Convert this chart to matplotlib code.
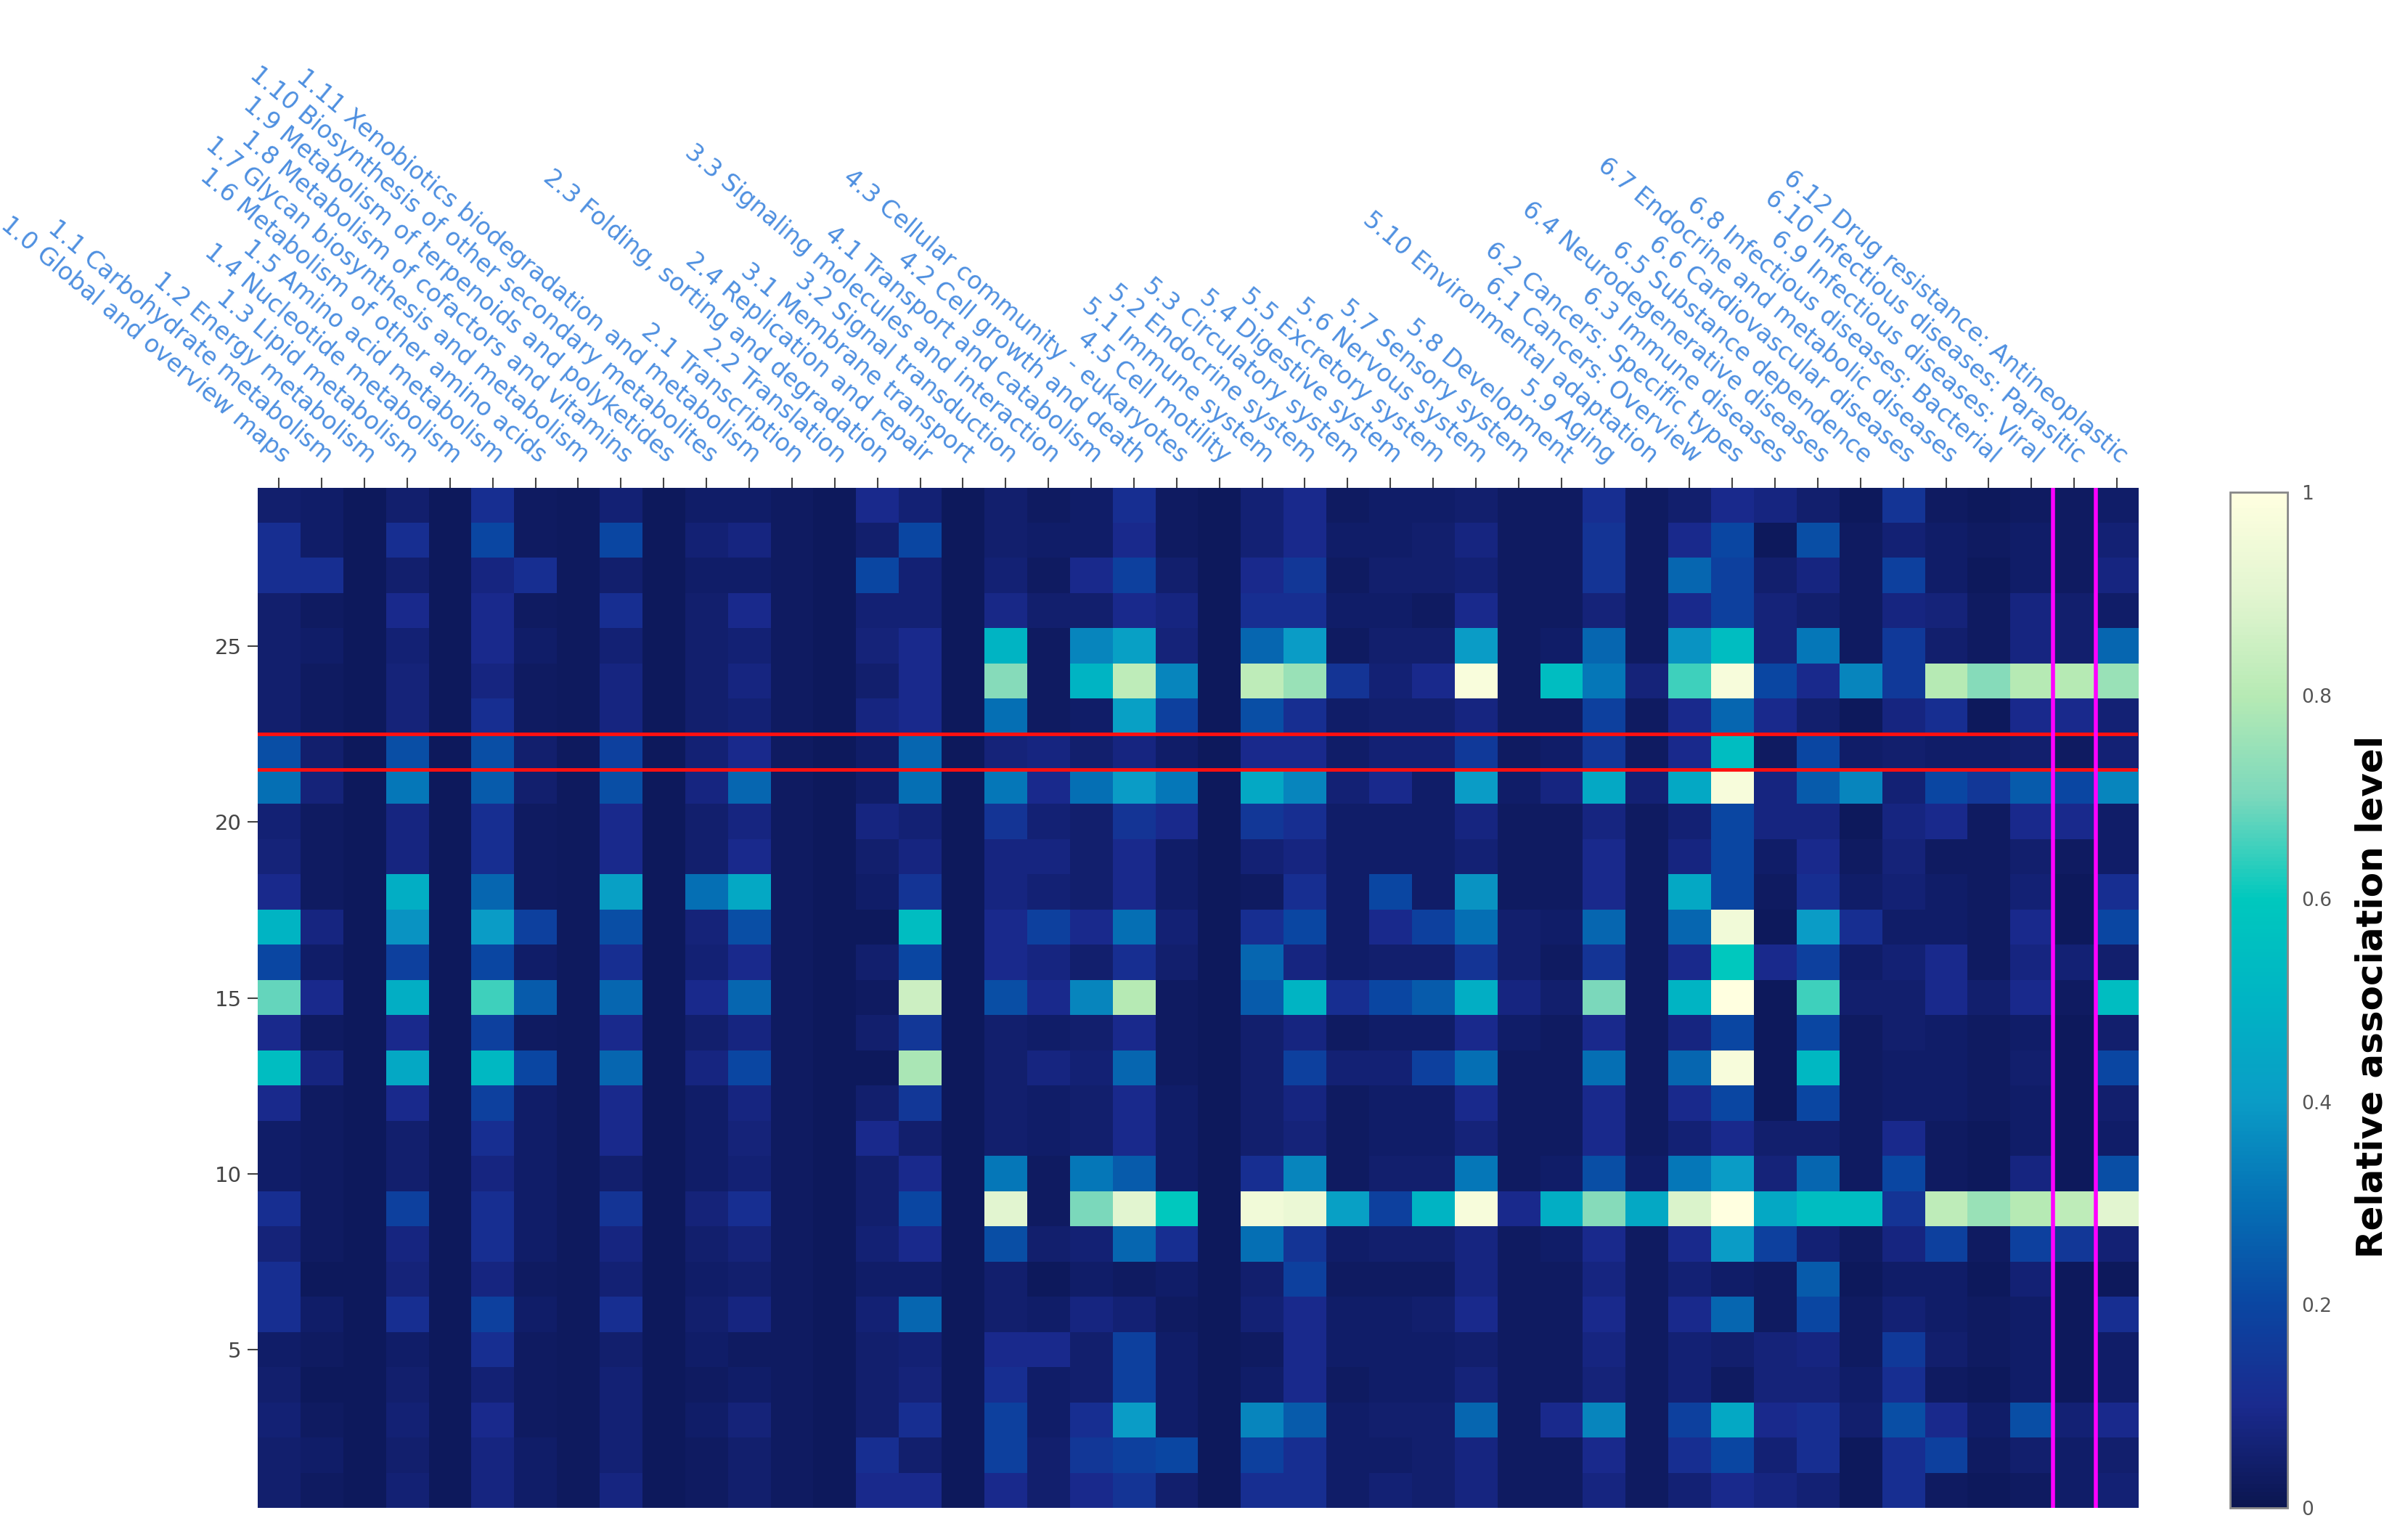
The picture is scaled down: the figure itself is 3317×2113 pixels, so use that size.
import numpy as np
import matplotlib
matplotlib.use("Agg")
import matplotlib.pyplot as plt
from matplotlib.colors import LinearSegmentedColormap

pathways = ["1.0 Global and overview maps", "1.1 Carbohydrate metabolism", "1.2 Energy metabolism",
    "1.3 Lipid metabolism", "1.4 Nucleotide metabolism", "1.5 Amino acid metabolism",
    "1.6 Metabolism of other amino acids", "1.7 Glycan biosynthesis and metabolism",
    "1.8 Metabolism of cofactors and vitamins", "1.9 Metabolism of terpenoids and polyketides",
    "1.10 Biosynthesis of other secondary metabolites", "1.11 Xenobiotics biodegradation and metabolism",
    "2.1 Transcription", "2.2 Translation", "2.3 Folding, sorting and degradation",
    "2.4 Replication and repair", "3.1 Membrane transport", "3.2 Signal transduction",
    "3.3 Signaling molecules and interaction", "4.1 Transport and catabolism",
    "4.2 Cell growth and death", "4.3 Cellular community - eukaryotes", "4.5 Cell motility",
    "5.1 Immune system", "5.2 Endocrine system", "5.3 Circulatory system", "5.4 Digestive system",
    "5.5 Excretory system", "5.6 Nervous system", "5.7 Sensory system", "5.8 Development",
    "5.9 Aging", "5.10 Environmental adaptation", "6.1 Cancers: Overview",
    "6.2 Cancers: Specific types", "6.3 Immune diseases", "6.4 Neurodegenerative diseases",
    "6.5 Substance dependence", "6.6 Cardiovascular diseases", "6.7 Endocrine and metabolic diseases",
    "6.8 Infectious diseases: Bacterial", "6.9 Infectious diseases: Viral",
    "6.10 Infectious diseases: Parasitic", "6.12 Drug resistance: Antineoplastic"]

# each list: values for rows 29 (top) down to 1 (bottom)
col_values = [
 [.05,.12,.12,.05,.05,.05,.05,.22,.3,.06,.07,.1,.5,.2,.68,.1,.55,.1,.04,.04,.12,.07,.12,.12,.04,.05,.06,.05,.05],
 [.04,.04,.12,.03,.04,.03,.03,.05,.07,.03,.03,.03,.08,.04,.1,.03,.08,.03,.03,.03,.03,.03,.02,.04,.03,.02,.03,.04,.03],
 [.02]*29,
 [.05,.12,.05,.1,.06,.07,.07,.22,.32,.08,.08,.48,.38,.18,.48,.1,.45,.1,.05,.05,.18,.08,.07,.12,.04,.05,.06,.05,.06],
 [.02]*29,
 [.12,.2,.08,.1,.1,.08,.12,.22,.25,.12,.12,.28,.4,.2,.65,.18,.52,.18,.12,.08,.12,.12,.08,.18,.12,.06,.1,.08,.08],
 [.03,.03,.12,.03,.04,.03,.03,.05,.05,.03,.03,.03,.18,.04,.25,.03,.2,.04,.04,.04,.04,.04,.03,.04,.03,.03,.03,.04,.04],
 [.025]*29,
 [.06,.2,.05,.12,.06,.08,.08,.18,.22,.1,.1,.42,.22,.12,.28,.1,.28,.1,.1,.05,.14,.08,.06,.12,.05,.06,.06,.06,.08],
 [.02]*29,
 [.04,.06,.04,.05,.05,.05,.05,.06,.08,.05,.05,.3,.07,.06,.1,.05,.08,.04,.04,.04,.07,.05,.04,.05,.04,.03,.04,.03,.03],
 [.04,.08,.04,.1,.06,.08,.06,.1,.28,.08,.1,.45,.22,.1,.28,.08,.2,.08,.07,.06,.12,.07,.05,.08,.03,.04,.07,.05,.05],
 [.03]*29,
 [.02]*29,
 [.1,.05,.2,.06,.07,.05,.08,.04,.04,.08,.05,.04,.02,.05,.03,.05,.02,.05,.1,.05,.05,.06,.04,.06,.05,.05,.05,.12,.1],
 [.06,.2,.06,.06,.1,.1,.1,.28,.3,.06,.08,.14,.55,.2,.85,.15,.78,.15,.05,.1,.2,.1,.04,.28,.06,.07,.12,.05,.1],
 [.02]*29,
 [.05,.05,.06,.09,.5,.72,.3,.07,.32,.14,.08,.08,.1,.1,.22,.05,.05,.05,.05,.32,.9,.22,.05,.05,.1,.12,.18,.18,.1],
 [.03,.04,.03,.05,.03,.03,.03,.08,.1,.06,.08,.06,.18,.08,.1,.04,.08,.04,.04,.03,.03,.05,.02,.04,.1,.04,.04,.05,.05],
 [.04,.04,.1,.05,.35,.5,.04,.05,.3,.05,.05,.05,.1,.05,.35,.05,.06,.05,.05,.32,.7,.06,.04,.08,.05,.05,.12,.15,.1],
 [.12,.1,.18,.1,.42,.82,.42,.08,.4,.14,.1,.1,.3,.12,.8,.1,.28,.1,.1,.25,.9,.28,.03,.06,.18,.18,.4,.18,.14],
 [.03,.03,.05,.08,.07,.35,.18,.04,.32,.1,.04,.04,.06,.05,.03,.03,.03,.04,.04,.04,.6,.12,.04,.03,.04,.04,.04,.2,.05],
 [.02]*29,
 [.06,.06,.1,.12,.28,.82,.22,.1,.45,.15,.06,.03,.12,.28,.25,.05,.05,.05,.05,.12,.95,.3,.05,.06,.03,.04,.35,.18,.12],
 [.1,.1,.15,.12,.4,.75,.12,.1,.35,.12,.08,.12,.2,.08,.5,.08,.18,.08,.07,.35,.93,.14,.18,.1,.1,.1,.25,.12,.12],
 [.03,.04,.03,.04,.03,.14,.04,.04,.06,.04,.04,.04,.04,.04,.12,.03,.06,.03,.03,.03,.42,.04,.03,.04,.04,.03,.04,.04,.04],
 [.04,.04,.05,.04,.05,.06,.05,.06,.1,.04,.04,.2,.1,.05,.2,.04,.06,.04,.04,.05,.18,.05,.03,.04,.04,.04,.05,.04,.06],
 [.04,.05,.05,.03,.05,.1,.05,.06,.04,.04,.04,.04,.18,.05,.25,.04,.18,.04,.04,.05,.5,.05,.03,.05,.04,.04,.05,.05,.05],
 [.05,.08,.06,.1,.4,.98,.08,.16,.4,.08,.06,.38,.3,.14,.48,.1,.3,.1,.07,.32,.97,.08,.08,.1,.05,.07,.28,.08,.08],
 [.03,.03,.03,.03,.03,.03,.03,.03,.04,.03,.03,.03,.05,.05,.08,.04,.03,.03,.03,.03,.1,.03,.03,.03,.03,.03,.03,.03,.03],
 [.03,.03,.03,.03,.04,.55,.03,.04,.08,.03,.03,.03,.04,.03,.05,.03,.03,.03,.03,.04,.48,.04,.03,.03,.03,.03,.1,.03,.03],
 [.12,.14,.14,.07,.28,.32,.18,.15,.45,.08,.1,.1,.28,.14,.7,.1,.3,.1,.1,.22,.72,.1,.08,.1,.08,.07,.35,.1,.08],
 [.03,.03,.03,.03,.03,.07,.03,.03,.06,.03,.03,.03,.03,.03,.03,.03,.03,.03,.03,.04,.45,.03,.03,.03,.03,.03,.03,.03,.03],
 [.05,.1,.28,.1,.38,.65,.1,.1,.45,.06,.08,.45,.28,.1,.5,.08,.28,.1,.06,.32,.88,.1,.06,.1,.06,.06,.18,.12,.06],
 [.1,.2,.18,.18,.55,.97,.28,.55,.97,.2,.2,.2,.95,.6,1.0,.2,.97,.2,.1,.4,1.0,.4,.04,.28,.05,.03,.45,.2,.1],
 [.08,.02,.05,.07,.07,.2,.1,.03,.08,.08,.04,.03,.02,.1,.02,.02,.02,.02,.05,.07,.45,.18,.03,.03,.07,.07,.1,.06,.08],
 [.05,.22,.08,.05,.32,.1,.05,.2,.25,.08,.1,.12,.4,.18,.65,.2,.52,.2,.05,.28,.55,.06,.25,.2,.08,.07,.12,.12,.06],
 [.02,.03,.03,.03,.03,.35,.02,.04,.35,.02,.03,.04,.12,.04,.05,.03,.03,.03,.03,.03,.55,.03,.02,.03,.03,.04,.05,.02,.02],
 [.14,.06,.18,.08,.16,.16,.08,.05,.06,.08,.07,.06,.04,.06,.05,.05,.04,.04,.1,.2,.14,.08,.04,.06,.16,.12,.22,.12,.12],
 [.03,.04,.04,.07,.05,.8,.12,.04,.2,.1,.03,.04,.04,.1,.1,.04,.04,.04,.03,.03,.82,.18,.04,.04,.05,.03,.1,.18,.03],
 [.02,.03,.02,.03,.03,.72,.02,.04,.15,.03,.03,.03,.03,.03,.05,.03,.03,.03,.02,.02,.75,.03,.02,.03,.03,.02,.04,.03,.02],
 [.03,.04,.04,.08,.08,.8,.1,.05,.25,.1,.05,.06,.1,.08,.1,.04,.05,.04,.04,.08,.8,.18,.06,.04,.04,.04,.22,.05,.03],
 [.03,.03,.03,.05,.05,.8,.1,.03,.2,.1,.03,.02,.02,.06,.03,.02,.02,.02,.02,.02,.82,.15,.02,.02,.02,.02,.06,.04,.04],
 [.04,.06,.08,.04,.28,.75,.06,.06,.35,.04,.04,.12,.2,.05,.55,.05,.2,.05,.04,.22,.9,.06,.02,.12,.04,.04,.1,.05,.06],
]
n_rows = 29
highlight_row = 22
highlight_col = "6.10 Infectious diseases: Parasitic"

data = np.array(col_values).T[::-1]  # row index 0 -> row 1

cmap = LinearSegmentedColormap.from_list("assoc", [
    (0.0, "#0b1650"), (0.1, "#1a2a8e"), (0.2, "#0a46a2"), (0.3, "#0570b5"),
    (0.4, "#0a9cc6"), (0.5, "#00b4c4"), (0.6, "#00c8be"), (0.7, "#7ad8bc"),
    (0.8, "#b6eab4"), (0.9, "#e2f5d0"), (1.0, "#ffffe0")])

fig = plt.figure(figsize=(33.17, 21.13), dpi=100)
ax = fig.add_axes([0.107, 0.017, 0.781, 0.665])
ncol = len(pathways)
im = ax.imshow(data, cmap=cmap, vmin=0, vmax=1, aspect="auto", origin="lower",
               extent=(-0.5, ncol - 0.5, 0.5, n_rows + 0.5), interpolation="nearest")

ax.axhline(highlight_row - 0.5, color="#ff1010", lw=3.5)
ax.axhline(highlight_row + 0.5, color="#ff1010", lw=3.5)
hc = pathways.index(highlight_col)
ax.axvline(hc - 0.5, color="#ff00ff", lw=4)
ax.axvline(hc + 0.5, color="#ff00ff", lw=4)

for s in ax.spines.values():
    s.set_visible(False)
ax.set_yticks([5, 10, 15, 20, 25])
ax.tick_params(axis="y", labelsize=21, colors="#444444", length=10, width=1.5, pad=6)
ax.set_xticks(range(ncol))
ax.xaxis.tick_top()
ax.tick_params(axis="x", length=10, width=1.5, color="#444444", labeltop=False, labelbottom=False)
for i, name in enumerate(pathways):
    ax.annotate(name, xy=(i, n_rows + 0.5), xycoords="data", xytext=(0, 20),
                textcoords="offset points", rotation=-40, rotation_mode="anchor",
                ha="right", va="bottom", fontsize=24, color="#4d8fe0",
                family="DejaVu Sans", annotation_clip=False)

cax = fig.add_axes([0.926, 0.017, 0.024, 0.662])
cb = fig.colorbar(im, cax=cax, ticks=[0, 0.2, 0.4, 0.6, 0.8, 1])
cb.ax.set_yticklabels(["0", "0.2", "0.4", "0.6", "0.8", "1"])
cb.ax.tick_params(labelsize=19, colors="#555555", length=0, pad=14)
cb.outline.set_edgecolor("#888888")
cb.outline.set_linewidth(2)
fig.text(0.985, 0.35, "Relative association level", rotation=90, ha="center", va="center",
         fontsize=36, fontweight="bold", family="DejaVu Sans")

fig.savefig("out.png", dpi=100, facecolor="white")
